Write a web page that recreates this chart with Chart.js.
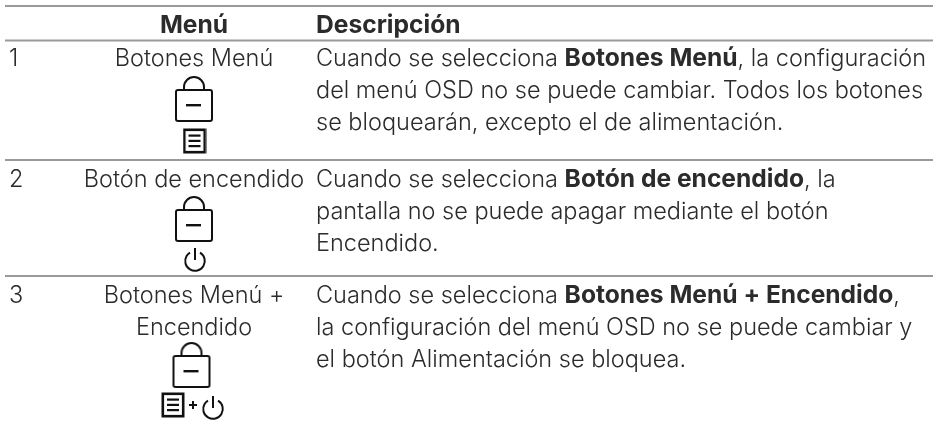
<!DOCTYPE html>
<html>
<head>
<meta charset="utf-8">
<style>
  html, body { margin: 0; padding: 0; background: #fff; }
  canvas { display: block; }
</style>
<script src="https://cdn.jsdelivr.net/npm/chart.js@4"></script>
</head>
<body>
<canvas id="chart" width="936" height="423"></canvas>
<script>
const headers = ["Menú", "Descripción"];
const rowNumbers = ["1", "2", "3"];
const menuLabels = [
  ["Botones Menú"],
  ["Botón de encendido"],
  ["Botones Menú +", "Encendido"],
];
const descriptions = [
  [
    "Cuando se selecciona **Botones Menú**, la configuración",
    "del menú OSD no se puede cambiar. Todos los botones",
    "se bloquearán, excepto el de alimentación.",
  ],
  [
    "Cuando se selecciona **Botón de encendido**, la",
    "pantalla no se puede apagar mediante el botón",
    "Encendido.",
  ],
  [
    "Cuando se selecciona **Botones Menú + Encendido**,",
    "la configuración del menú OSD no se puede cambiar y",
    "el botón Alimentación se bloquea.",
  ],
];

// table geometry, the hidden axes run in page pixels
const ruleYs = [6, 40.5, 160, 276];
const ruleLeft = 5;
const ruleRight = 933;
const rowTextYs = [66, 187, 303];
const lineHeight = 32;
const fontSize = 23.5;
const boldFontSize = 24.6;
const textColor = "#2b2b2b";
const fontFamily = "Inter, sans-serif";

const makeIcon = (w, h, draw) => {
  const c = document.createElement("canvas");
  c.width = w;
  c.height = h;
  const ctx = c.getContext("2d");
  ctx.strokeStyle = "#111";
  ctx.fillStyle = "#111";
  ctx.lineWidth = 2;
  draw(ctx);
  return c;
};
const lockIcon = makeIcon(42, 50, (ctx) => {
  ctx.beginPath();
  ctx.moveTo(11, 16);
  ctx.lineTo(11, 13);
  ctx.arc(21, 13, 10, Math.PI, 0);
  ctx.lineTo(31, 16);
  ctx.stroke();
  ctx.beginPath();
  ctx.roundRect(3, 16, 36, 31, 2);
  ctx.stroke();
  ctx.fillRect(13, 30, 15, 2.4);
});
const menuIcon = makeIcon(24, 26, (ctx) => {
  ctx.lineWidth = 2.6;
  ctx.strokeRect(1.8, 1.8, 20.4, 22.4);
  ctx.fillRect(6, 6.5, 12, 2.2);
  ctx.fillRect(6, 11.8, 12, 2.2);
  ctx.fillRect(6, 17, 12, 2.2);
});
const powerIcon = makeIcon(24, 26, (ctx) => {
  ctx.beginPath();
  ctx.arc(12, 14, 9.8, -0.33 * Math.PI, 1.33 * Math.PI, false);
  ctx.stroke();
  ctx.fillRect(11, 1, 2, 12);
});
const plusIcon = makeIcon(10, 10, (ctx) => {
  ctx.fillRect(1, 4, 8, 2);
  ctx.fillRect(4, 1, 2, 8);
});

const iconPoints = [
  { x: 194, y: 99, icon: lockIcon },
  { x: 194.5, y: 141, icon: menuIcon },
  { x: 194, y: 219, icon: lockIcon },
  { x: 195, y: 260, icon: powerIcon },
  { x: 191.5, y: 365, icon: lockIcon },
  { x: 173, y: 405, icon: menuIcon },
  { x: 193, y: 405, icon: plusIcon },
  { x: 213, y: 408, icon: powerIcon },
];

const setFont = (ctx, bold) => {
  ctx.font = bold
    ? "700 " + boldFontSize + "px " + fontFamily
    : "300 " + fontSize + "px " + fontFamily;
};

// writes one line, the parts between ** are bold
const drawRuns = (ctx, line, x, y) => {
  let cur = x;
  line.split("**").forEach((part, i) => {
    setFont(ctx, i % 2 === 1);
    ctx.fillText(part, cur, y);
    cur += ctx.measureText(part).width;
  });
};

const tableText = {
  id: "tableText",
  afterDatasetsDraw(chart) {
    const { ctx, scales } = chart;
    const px = (v) => scales.x.getPixelForValue(v);
    const py = (v) => scales.y.getPixelForValue(v);
    ctx.save();
    ctx.fillStyle = textColor;
    ctx.textBaseline = "alphabetic";
    setFont(ctx, true);
    ctx.textAlign = "center";
    ctx.fillText(headers[0], px(194), py(33));
    ctx.textAlign = "left";
    ctx.fillText(headers[1], px(316), py(33));
    rowTextYs.forEach((y, i) => {
      setFont(ctx, false);
      ctx.textAlign = "left";
      ctx.fillText(rowNumbers[i], px(9), py(y));
      ctx.textAlign = "center";
      menuLabels[i].forEach((t, j) => {
        ctx.fillText(t, px(194), py(y + j * lineHeight));
      });
      ctx.textAlign = "left";
      descriptions[i].forEach((t, j) => {
        drawRuns(ctx, t, px(316), py(y + j * lineHeight));
      });
    });
    ctx.restore();
  },
};

const ruleDatasets = ruleYs.map((y) => ({
  type: "line",
  data: [
    { x: ruleLeft, y: y },
    { x: ruleRight, y: y },
  ],
  borderColor: "#9a9a9a",
  borderWidth: 2,
  pointRadius: 0,
}));

new Chart(document.querySelector("#chart"), {
  type: "scatter",
  data: {
    datasets: [
      ...ruleDatasets,
      {
        data: iconPoints.map((p) => ({ x: p.x, y: p.y })),
        pointStyle: iconPoints.map((p) => p.icon),
      },
    ],
  },
  options: {
    responsive: false,
    animation: false,
    layout: { padding: 0, autoPadding: false },
    scales: {
      x: { type: "linear", display: false, min: 0, max: 936 },
      y: { type: "linear", display: false, min: 0, max: 423, reverse: true },
    },
    plugins: { legend: { display: false }, tooltip: { enabled: false } },
  },
  plugins: [tableText],
});
</script>
</body>
</html>
